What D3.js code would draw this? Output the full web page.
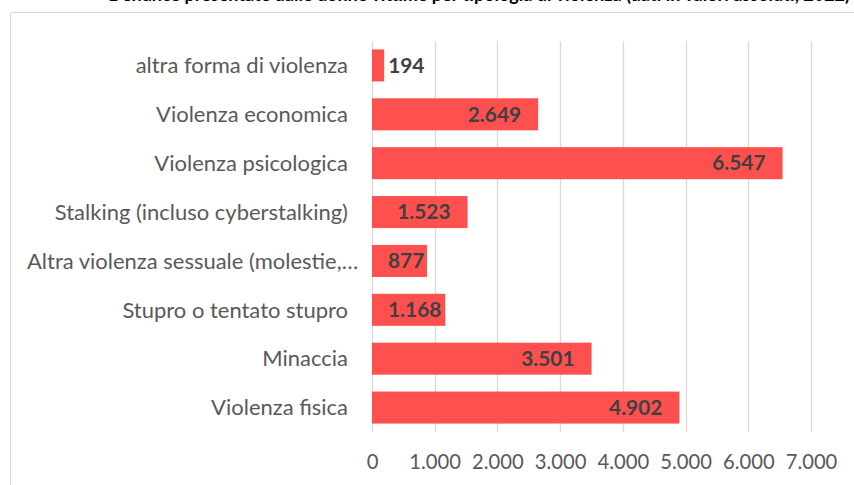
<!DOCTYPE html>
<html>
<head>
<meta charset="utf-8">
<script src="https://cdn.jsdelivr.net/npm/d3@7/dist/d3.min.js"></script>
<style>
  html, body { margin: 0; padding: 0; background: #ffffff; }
  svg { display: block; }
</style>
</head>
<body>
<svg id="chart" width="854" height="485"></svg>
<script>
const titleText = "Denunce presentate dalle donne vittime per tipologia di violenza (dati in valori assoluti, 2022)";
const categories = [
  "altra forma di violenza",
  "Violenza economica",
  "Violenza psicologica",
  "Stalking (incluso cyberstalking)",
  "Altra violenza sessuale (molestie,…",
  "Stupro o tentato stupro",
  "Minaccia",
  "Violenza fisica"
];
const values = [194, 2649, 6547, 1523, 877, 1168, 3501, 4902];
const tickValues = [0, 1000, 2000, 3000, 4000, 5000, 6000, 7000];
const tickLabels = ["0", "1.000", "2.000", "3.000", "4.000", "5.000", "6.000", "7.000"];

const FONT = "Lato, 'Open Sans', sans-serif";
const svg = d3.select("#chart");

// fit a font-size so a sample string has the target width
function fitSize(sample, target, weight) {
  const t = svg.append("text").attr("font-family", FONT).attr("font-size", 100)
    .attr("font-weight", weight).text(sample);
  const w = t.node().getComputedTextLength();
  t.remove();
  return 100 * target / w;
}
const catSize = fitSize("Violenza economica", 192, 400);
const tickSize = fitSize("1.000", 51.7, 400);
const lblSize = fitSize("1.523", 53.4, 700);

// frame
svg.append("path").attr("d", "M10.5,485 L10.5,12.5 L854,12.5")
  .attr("fill", "none").attr("stroke", "#d9d9d9").attr("stroke-width", 1);

// title (cut off at top, as in the reference)
svg.append("text").attr("x", 850).attr("y", 1).attr("text-anchor", "end")
  .attr("font-family", FONT).attr("font-weight", 700).attr("font-size", 18)
  .attr("fill", "#000").text(titleText);

const x = d3.scaleLinear().domain([0, 7000]).range([372, 811]);
const y = d3.scaleBand().domain(categories).range([41, 432])
  .paddingInner(0.345).paddingOuter(0.1725);

// gridlines
svg.append("g").selectAll("line").data(tickValues).join("line")
  .attr("x1", d => Math.round(x(d)) + 0.5).attr("x2", d => Math.round(x(d)) + 0.5)
  .attr("y1", 41).attr("y2", 432)
  .attr("stroke", "#d9d9d9").attr("stroke-width", 1.3);

// x axis tick labels
const xAxis = d3.axisBottom(x).tickValues(tickValues)
  .tickFormat((d, i) => tickLabels[i]).tickSize(0).tickPadding(0);
const gx = svg.append("g").attr("transform", "translate(0,455)").call(xAxis);
gx.select(".domain").remove();
gx.selectAll("text").attr("font-family", FONT).attr("font-size", tickSize)
  .attr("fill", "#595959").attr("dy", "0.71em").attr("y", 0);

// bars
svg.append("g").selectAll("rect").data(values).join("rect")
  .attr("x", x(0))
  .attr("y", (d, i) => y(categories[i]))
  .attr("width", d => x(d) - x(0))
  .attr("height", y.bandwidth())
  .attr("fill", "#ff5050");

// category labels
const gy = svg.append("g");
categories.forEach((c, i) => {
  const t = gy.append("text")
    .attr("y", y(c) + y.bandwidth() / 2).attr("dy", "0.35em")
    .attr("text-anchor", "end")
    .attr("font-family", FONT).attr("font-size", catSize)
    .attr("fill", "#595959").text(c);
  const w = t.node().getComputedTextLength();
  t.attr("x", Math.max(348, 27 + w));
});

// data labels
const fmt = v => d3.format(",")(v).replace(/,/g, ".");
const gl = svg.append("g");
values.forEach((v, i) => {
  const t = gl.append("text")
    .attr("y", y(categories[i]) + y.bandwidth() / 2).attr("dy", "0.35em")
    .attr("font-family", FONT).attr("font-weight", 700).attr("font-size", lblSize)
    .attr("fill", "#404040").text(fmt(v));
  const w = t.node().getComputedTextLength();
  const end = x(v);
  let left;
  if (end - x(0) < w + 16) {
    left = end + 4; // outside end when too short
  } else {
    left = Math.max(x(0) + 16, end - 17 - w);
  }
  t.attr("x", left);
});
</script>
</body>
</html>
